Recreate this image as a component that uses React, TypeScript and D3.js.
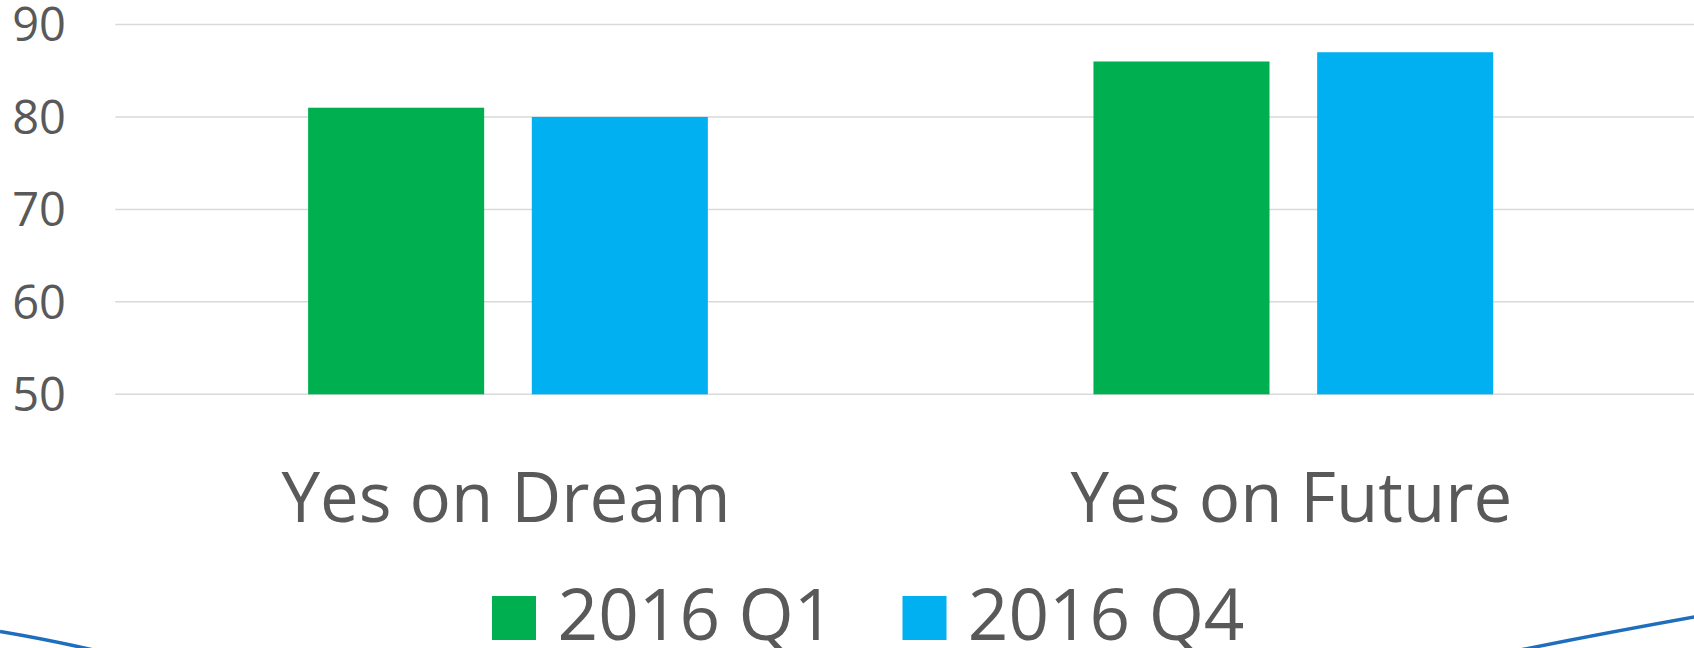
import React from "react";
import * as d3 from "d3";

const categories = ["Yes on Dream", "Yes on Future"];
const seriesNames = ["2016 Q1", "2016 Q4"];
const q1Values = [81, 86];
const q4Values = [80, 87];
const yTicks = [50, 60, 70, 80, 90];
const seriesColors = ["#00B050", "#00B0F0"];

const W = 1694;
const H = 648;
const FONT = "'Open Sans', 'Noto Sans', sans-serif";
const TEXT = "#595959";

export default function App() {
  const plotLeft = 115.3;
  const plotRight = 1686;
  const y = d3.scaleLinear().domain([50, 90]).range([394.3, 24.5]);
  const x0 = d3.scaleBand<string>().domain(categories).range([plotLeft, plotRight]).paddingInner(0).paddingOuter(0);
  const x1 = d3
    .scaleBand<string>()
    .domain(seriesNames)
    .range([0, x0.bandwidth()])
    .paddingInner(0.213)
    .paddingOuter(0.862);
  const values = [q1Values, q4Values];

  const legendItems = [
    { name: seriesNames[0], color: seriesColors[0], sq: 492, tx: 557.6 },
    { name: seriesNames[1], color: seriesColors[1], sq: 902.5, tx: 967.8 },
  ];

  return (
    <svg
      width={W}
      height={H}
      style={{ position: "absolute", left: 0, top: 0, display: "block", background: "#fff" }}
    >
      {/* gridlines */}
      {yTicks.map((t) => (
        <line key={"g" + t} x1={plotLeft} x2={W} y1={y(t)} y2={y(t)} stroke="#D9D9D9" strokeWidth={1.5} />
      ))}
      {/* tick labels */}
      {yTicks.map((t) => (
        <text
          key={"t" + t}
          x={66}
          y={y(t)}
          textAnchor="end"
          dy="0.357em"
          fontSize={47}
          fontFamily={FONT}
          fill={TEXT}
        >
          {t}
        </text>
      ))}
      {/* bars */}
      {categories.map((c, ci) =>
        seriesNames.map((s, si) => {
          const v = values[si][ci];
          return (
            <rect
              key={c + s}
              x={(x0(c) as number) + (x1(s) as number)}
              y={y(v)}
              width={x1.bandwidth()}
              height={y(50) - y(v)}
              fill={seriesColors[si]}
            />
          );
        })
      )}
      {/* category labels */}
      {categories.map((c) => (
        <text
          key={"c" + c}
          transform={`translate(${(x0(c) as number) + x0.bandwidth() / 2 - 2}, 522) scale(1, 1.02)`}
          textAnchor="middle"
          fontSize={69}
          fontFamily={FONT}
          fill={TEXT}
        >
          {c}
        </text>
      ))}
      {/* legend */}
      {legendItems.map((it) => (
        <g key={"l" + it.name}>
          <rect x={it.sq} y={596} width={44} height={44} fill={it.color} />
          <text x={it.tx} y={640} fontSize={71} fontFamily={FONT} fill={TEXT}>
            {it.name}
          </text>
        </g>
      ))}
      {/* decorative slide arcs */}
      <path d="M0,631.5 Q45,639 98,651" fill="none" stroke="#1F6EBE" strokeWidth={3.5} />
      <path d="M1515,651 Q1605,633 1700,616" fill="none" stroke="#1F6EBE" strokeWidth={3.5} />
    </svg>
  );
}
